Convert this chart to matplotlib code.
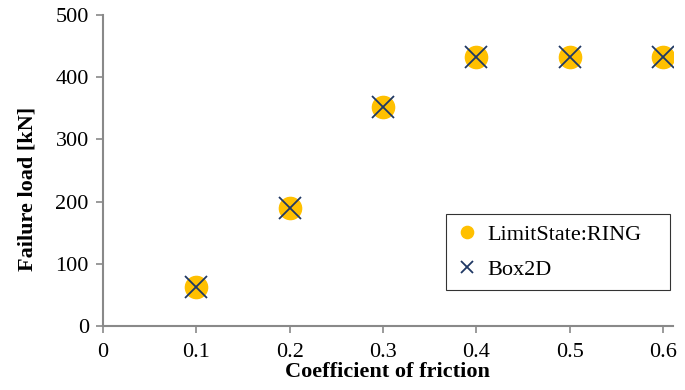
import matplotlib
matplotlib.use('Agg')
import matplotlib.pyplot as plt

# Data
friction = [0.1, 0.2, 0.3, 0.4, 0.5, 0.6]
ring_load = [63, 190, 352, 432, 432, 432]
box2d_load = [63, 190, 352, 432, 432, 432]

plt.rcParams['font.family'] = 'Liberation Serif'

fig = plt.figure(figsize=(6.85, 3.9), dpi=100)
ax = fig.add_axes([0.150, 0.164, 0.832, 0.798])

ax.plot(friction, ring_load, 'o', color='#FFC000', markersize=16, label='LimitState:RING')
ax.plot(friction, box2d_load, 'x', color='#1F3864', markersize=16, markeredgewidth=1.3, label='Box2D')

ax.set_xlim(0, 0.61)
ax.set_ylim(0, 500)
ax.set_xticks([0, 0.1, 0.2, 0.3, 0.4, 0.5, 0.6])
ax.set_xticklabels(['0', '0.1', '0.2', '0.3', '0.4', '0.5', '0.6'])
ax.set_yticks([0, 100, 200, 300, 400, 500])

for s in ['top', 'right']:
    ax.spines[s].set_visible(False)
for s in ['left', 'bottom']:
    ax.spines[s].set_color('#898989')
    ax.spines[s].set_linewidth(1.5)
ax.tick_params(colors='#898989', labelcolor='black', labelsize=16, length=5, width=1.2)
ax.tick_params(axis='y', pad=5)
ax.tick_params(axis='x', pad=7)

ax.set_xlabel('Coefficient of friction', fontsize=16, fontweight='bold', labelpad=0)
ax.set_ylabel('Failure load [kN]', fontsize=16, fontweight='bold')
ax.yaxis.set_label_coords(-0.115, 0.44)

leg = ax.legend(loc='lower left', bbox_to_anchor=(0.602, 0.116, 0.393, 0.245), mode='expand',
                fontsize=16, frameon=True, fancybox=False, edgecolor='black',
                markerscale=0.55, handlelength=1.0, handletextpad=0.4, borderpad=0.45,
                labelspacing=0.65, borderaxespad=0)
leg.get_frame().set_linewidth(0.8)

fig.savefig('out.png', dpi=100)
